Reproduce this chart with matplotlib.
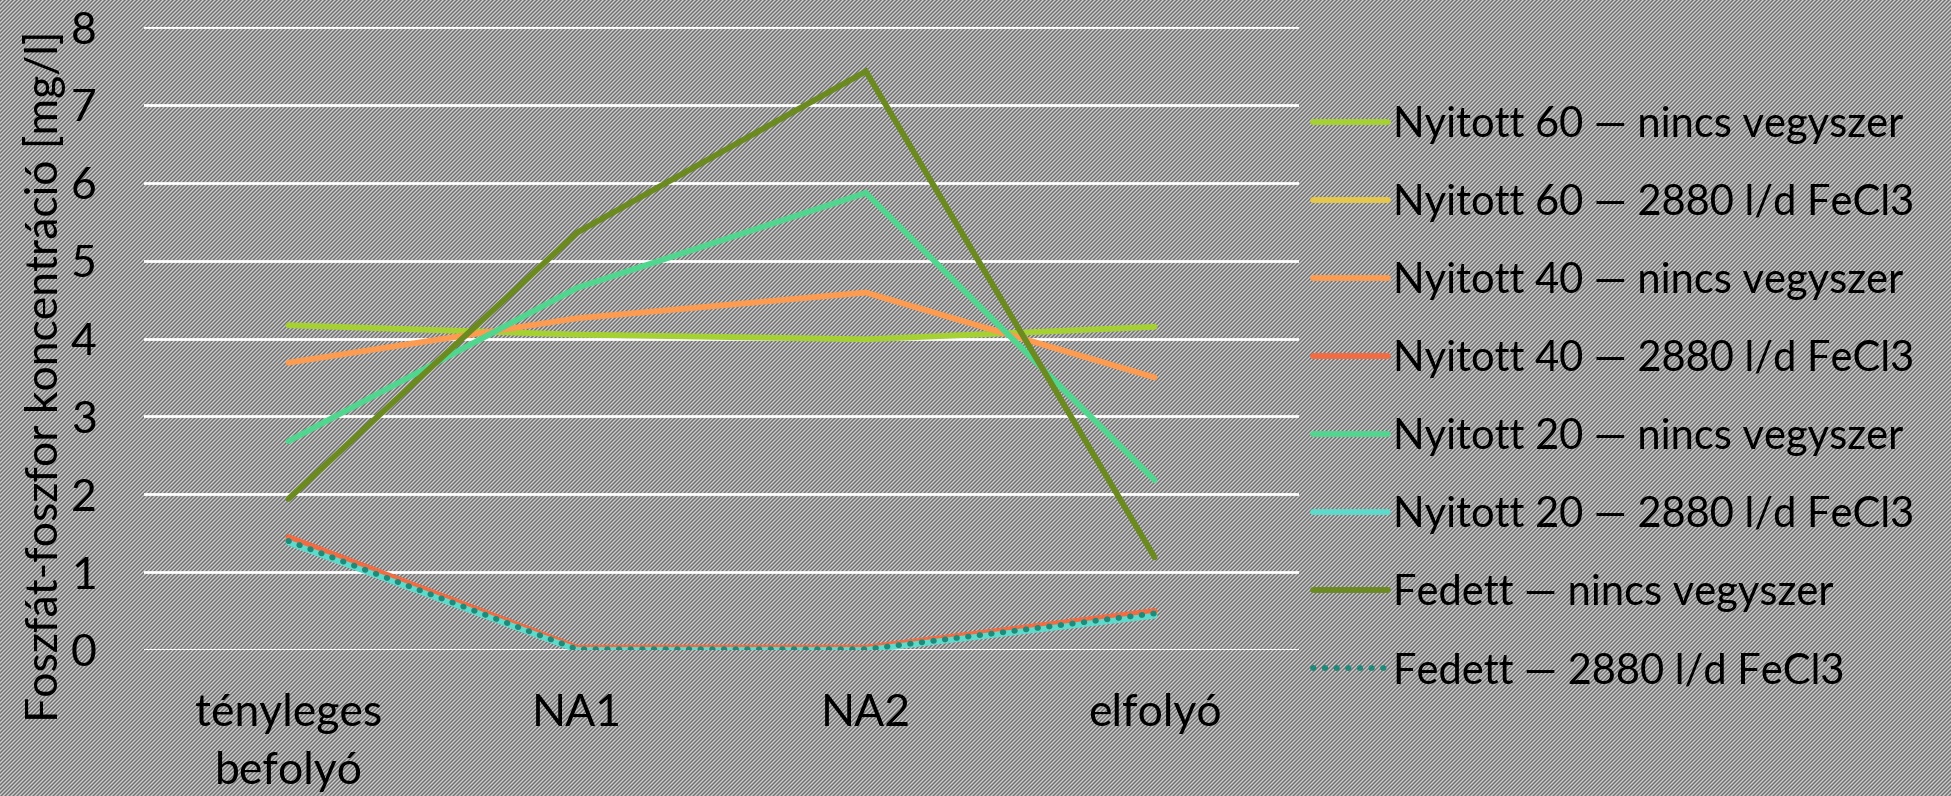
import numpy as np
import matplotlib

matplotlib.use("Agg")
import matplotlib.pyplot as plt  # noqa: E402

W, H, DPI = 1951, 796, 100
FONT = ["Lato", "DejaVu Sans"]
FS = 32
LEG_FS = 30
INK = "#000000"

categories = ["tényleges\nbefolyó", "NA1", "NA2", "elfolyó"]
labels = [
    "Nyitott 60 — nincs vegyszer",
    "Nyitott 60 — 2880 l/d FeCl3",
    "Nyitott 40 — nincs vegyszer",
    "Nyitott 40 — 2880 l/d FeCl3",
    "Nyitott 20 — nincs vegyszer",
    "Nyitott 20 — 2880 l/d FeCl3",
    "Fedett — nincs vegyszer",
    "Fedett — 2880 l/d FeCl3",
]
n60_none = [4.17, 4.05, 3.99, 4.15]
n60_fecl = [1.42, 0.01, 0.01, 0.48]
n40_none = [3.69, 4.26, 4.59, 3.50]
n40_fecl = [1.45, 0.03, 0.03, 0.50]
n20_none = [2.68, 4.65, 5.87, 2.18]
n20_fecl = [1.38, 0.0, 0.0, 0.44]
fed_none = [1.94, 5.36, 7.43, 1.19]
fed_fecl = [1.40, 0.01, 0.01, 0.47]
yticks = [0, 1, 2, 3, 4, 5, 6, 7, 8]

series = [n60_none, n60_fecl, n40_none, n40_fecl, n20_none, n20_fecl, fed_none, fed_fecl]
colors = ["#a5d133", "#e8c84a", "#fd9b50", "#f36b43", "#50d68e", "#5cdacb", "#6b8a1f", "#1d8a7a"]

plt.rcParams["font.family"] = FONT

fig = plt.figure(figsize=(W / DPI, H / DPI), dpi=DPI)

# diagonal hatched background, drawn pixel by pixel
yy, xx = np.mgrid[0:H, 0:W]
levels = np.array([112, 150, 204, 160], dtype=float) / 255
bg = levels[(xx + yy) % 4]
fig.figimage(np.dstack([bg, bg, bg]), origin="upper", zorder=0)
fig.patch.set_alpha(0)

ax = fig.add_axes([144 / W, 146 / H, 1155 / W, 623 / H], zorder=2)
ax.set_facecolor("none")
x = np.arange(len(categories)) + 0.5
LW = 4.2
for i, (vals, col, lab) in enumerate(zip(series, colors, labels)):
    if i == 7:
        ax.plot(x, vals, color=col, lw=LW, ls=(0, (0.1, 1.9)),
                dash_capstyle="round", label=lab, zorder=3 + i)
    else:
        ax.plot(x, vals, color=col, lw=LW, solid_capstyle="round",
                solid_joinstyle="miter", label=lab, zorder=3 + i)

ax.set_xlim(0, len(categories))
ax.set_ylim(0, 8)
ax.set_yticks(yticks)
ax.set_xticks(x)
ax.set_xticklabels(categories, fontsize=FS, linespacing=1.5)
ax.set_yticklabels([str(t) for t in yticks], fontsize=FS)
ax.tick_params(length=0, pad=0)
ax.tick_params(axis="y", pad=34)
ax.tick_params(axis="x", pad=31)
ax.grid(axis="y", color="white", lw=2)
for s in ax.spines.values():
    s.set_visible(False)

fig.text(45 / W, 1 - 376 / H, "Foszfát-foszfor koncentráció [mg/l]",
         rotation=90, ha="center", va="center", fontsize=FS, color=INK, zorder=3)

leg = ax.legend(loc="upper left", bbox_to_anchor=(1313 / W, 1 - 106 / H),
                bbox_transform=fig.transFigure, frameon=False, fontsize=LEG_FS,
                handlelength=1.8, handletextpad=0.13, labelspacing=0.96,
                borderaxespad=0, borderpad=0)
for line in leg.get_lines():
    line.set_linewidth(LW)

fig.savefig("out.png", dpi=DPI)
